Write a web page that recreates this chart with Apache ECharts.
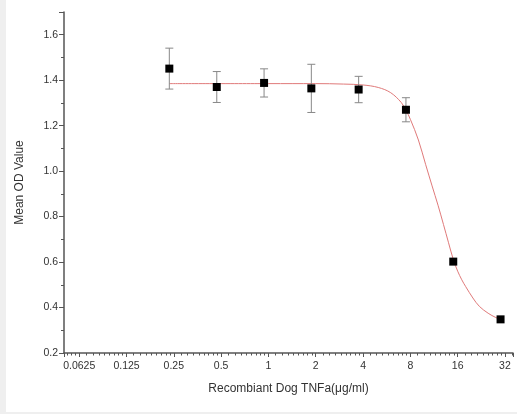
<!DOCTYPE html>
<html>
<head>
<meta charset="utf-8">
<script src="https://cdn.jsdelivr.net/npm/echarts@6/dist/echarts.min.js"></script>
<style>
  html, body { margin: 0; padding: 0; background: #efefef; width: 517px; height: 414px; overflow: hidden; }
  #chart { position: absolute; left: 6px; top: 0; width: 511px; height: 412px; background: #ffffff; }
</style>
</head>
<body>
<div id="chart"></div>
<script>
// Measured points
const doseX = [0.234, 0.469, 0.938, 1.875, 3.75, 7.5, 15, 30];
const meanOD = [1.451, 1.370, 1.388, 1.364, 1.359, 1.270, 0.602, 0.348];
const sdOD = [0.090, 0.068, 0.062, 0.106, 0.058, 0.053, 0, 0];

// Fitted curve
const curveX = [0.234, 1, 2, 3, 4, 5, 6, 7, 7.5, 8, 9, 10, 11, 12, 13, 14, 15, 16, 17, 18, 20, 22, 25, 28, 30];
const curveY = [1.385, 1.385, 1.385, 1.383, 1.379, 1.368, 1.345, 1.302, 1.268, 1.228, 1.137, 1.030, 0.935, 0.850, 0.765, 0.685, 0.612, 0.560, 0.522, 0.492, 0.442, 0.405, 0.375, 0.356, 0.348];

// Axis settings
const xTickLabels = ['0.0625', '0.125', '0.25', '0.5', '1', '2', '4', '8', '16', '32'];
const xTitle = 'Recombiant Dog TNFa(μg/ml)';
const yTitle = 'Mean OD Value';

const chart = echarts.init(document.getElementById('chart'));
const font = 'Liberation Sans, Arial, sans-serif';
const axisColor = '#555';

const pts = doseX.map((x, i) => [x, meanOD[i]]);
const errs = doseX.map((x, i) => [x, meanOD[i] - sdOD[i], meanOD[i] + sdOD[i]]);
const curve = curveX.map((x, i) => [x, curveY[i]]);

chart.setOption({
  animation: false,
  backgroundColor: '#ffffff',
  grid: { left: 57, right: 4, top: 12, bottom: 59, containLabel: false },
  xAxis: {
    type: 'log',
    logBase: 2,
    min: 0.05,
    max: 36,
    name: xTitle,
    nameLocation: 'middle',
    nameGap: 30,
    nameTextStyle: { fontFamily: font, fontSize: 12, color: '#333' },
    axisLine: { lineStyle: { color: axisColor, width: 1.5 } },
    axisTick: { show: true, length: 4, lineStyle: { color: axisColor } },
    minorTick: { show: true, splitNumber: 9, length: 2.5, lineStyle: { color: axisColor } },
    splitLine: { show: false },
    axisLabel: {
      fontFamily: font, fontSize: 10.5, color: '#333', margin: 8,
      showMinLabel: false, showMaxLabel: false,
      formatter: function (v) {
        const n = Math.round(Math.log2(v)) + 4;
        return (n >= 0 && n < xTickLabels.length && Math.abs(Math.pow(2, n - 4) - v) < 1e-6) ? xTickLabels[n] : '';
      }
    }
  },
  yAxis: {
    type: 'value',
    min: 0.2,
    max: 1.7,
    interval: 0.2,
    name: yTitle,
    nameLocation: 'middle',
    nameGap: 38,
    nameRotate: 90,
    nameTextStyle: { fontFamily: font, fontSize: 12, color: '#333' },
    axisLine: { show: true, lineStyle: { color: axisColor, width: 1.5 } },
    axisTick: { show: true, length: 5, lineStyle: { color: axisColor } },
    minorTick: { show: true, splitNumber: 2, length: 3, lineStyle: { color: axisColor } },
    splitLine: { show: false },
    axisLabel: {
      fontFamily: font, fontSize: 10.5, color: '#333', margin: 6,
      showMaxLabel: false,
      formatter: v => (Math.abs(v - 1.7) < 1e-6 ? '' : v.toFixed(1))
    }
  },
  series: [
    {
      type: 'line',
      data: curve,
      smooth: 0.35,
      showSymbol: false,
      lineStyle: { color: '#e07a7a', width: 1 },
      z: 1
    },
    {
      type: 'custom',
      data: errs,
      renderItem: function (params, api) {
        const x = api.value(0);
        const lo = api.coord([x, api.value(1)]);
        const hi = api.coord([x, api.value(2)]);
        if (Math.abs(hi[1] - lo[1]) < 1) return { type: 'group', children: [] };
        const w = 4;
        const style = { stroke: '#888', lineWidth: 1 };
        return {
          type: 'group',
          children: [
            { type: 'line', shape: { x1: lo[0], y1: lo[1], x2: hi[0], y2: hi[1] }, style },
            { type: 'line', shape: { x1: lo[0] - w, y1: lo[1], x2: lo[0] + w, y2: lo[1] }, style },
            { type: 'line', shape: { x1: hi[0] - w, y1: hi[1], x2: hi[0] + w, y2: hi[1] }, style }
          ]
        };
      },
      z: 2
    },
    {
      type: 'scatter',
      data: pts,
      symbol: 'rect',
      symbolSize: 8,
      itemStyle: { color: '#000', opacity: 1 },
      z: 3
    }
  ]
});
</script>
</body>
</html>
